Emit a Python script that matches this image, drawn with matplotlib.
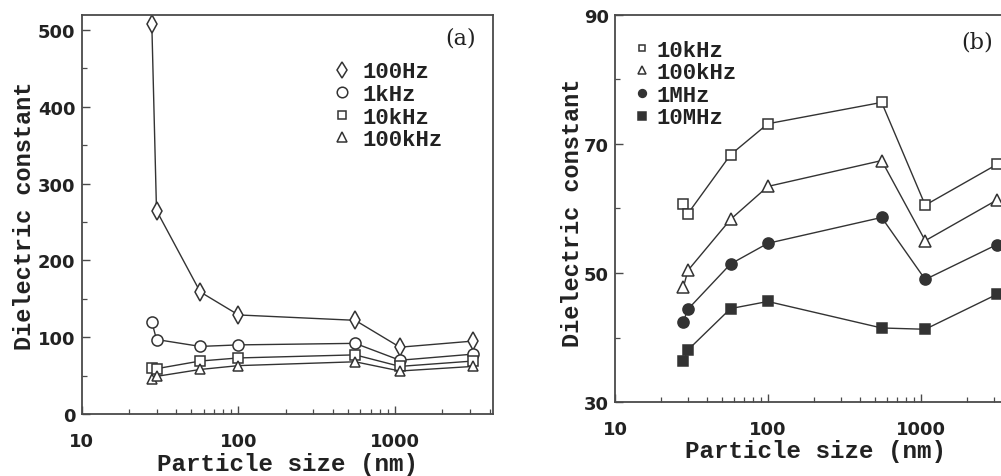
import matplotlib
matplotlib.use("Agg")
import matplotlib.pyplot as plt
from matplotlib.ticker import MultipleLocator, LogLocator, FixedLocator, NullFormatter

# ---------------- data ----------------
size_nm = [28, 30, 57, 100, 555, 1070, 3150]

a_100Hz = [508, 265, 159, 129, 122, 87, 95]
a_1kHz = [120, 97, 88, 90, 92, 70, 78]
a_10kHz = [60, 59, 69, 73, 77, 62, 69]
a_100kHz = [46, 49, 58, 63, 68, 56, 62]

b_10kHz = [60.7, 59.2, 68.3, 73.1, 76.4, 60.5, 66.8]
b_100kHz = [47.8, 50.4, 58.3, 63.4, 67.4, 55.0, 61.3]
b_1MHz = [42.5, 44.4, 51.4, 54.6, 58.6, 49.0, 54.4]
b_10MHz = [36.4, 38.1, 44.5, 45.6, 41.5, 41.3, 46.7]

a_labels = ["100Hz", "1kHz", "10kHz", "100kHz"]
b_labels = ["10kHz", "100kHz", "1MHz", "10MHz"]
x_ticks = [10, 100, 1000]
a_yticks = [0, 100, 200, 300, 400, 500]
b_yticks = [30, 50, 70, 90]

# ---------------- style ----------------
INK = "#333333"
SPINE = "#4a4a4a"
MONO = "Liberation Mono"
TICKFONT = {"family": "DejaVu Sans", "weight": "bold", "size": 13}

fig = plt.figure(figsize=(10.01, 4.77), dpi=100)
W, H = 1001, 477

def px_axes(l, t, r, b):
    return fig.add_axes([l / W, 1 - b / H, (r - l) / W, (b - t) / H])

axa = px_axes(81.7, 15.7, 493, 415)
axb = px_axes(615, 15.5, 1016, 403.3)

def style(ax, ylim, yticks, yminor):
    ax.set_xscale("log")
    ax.set_xlim(10, 4200)
    ax.set_ylim(*ylim)
    ax.xaxis.set_major_locator(FixedLocator(x_ticks))
    ax.xaxis.set_minor_locator(LogLocator(base=10, subs=range(2, 10), numticks=20))
    ax.xaxis.set_minor_formatter(NullFormatter())
    ax.set_xticklabels([str(t) for t in x_ticks], fontdict=TICKFONT)
    ax.yaxis.set_major_locator(FixedLocator(yticks))
    ax.yaxis.set_minor_locator(MultipleLocator(yminor))
    ax.set_yticklabels([str(t) for t in yticks], fontdict=TICKFONT)
    ax.tick_params(which="both", direction="in", top=False, right=False,
                   color=SPINE, labelcolor="#222222")
    ax.tick_params(which="major", length=5.5, width=1.0)
    ax.tick_params(which="minor", length=3.5, width=0.9)
    ax.tick_params(axis="x", which="major", pad=13)
    ax.tick_params(axis="y", which="major", pad=4.5)
    for s in ax.spines.values():
        s.set_color(SPINE)
        s.set_linewidth(1.3)
    ax.set_xlabel("Particle size (nm)", family=MONO, fontsize=17.5,
                  weight="bold", color="#222222", va="center")
    ax.set_ylabel("Dielectric constant", family=MONO, fontsize=17,
                  weight="bold", color="#222222", va="center")

style(axa, (0, 520), a_yticks, 50)
style(axb, (30, 90), b_yticks, 10)

line_kw = dict(color=INK, lw=1.0, mec=INK, mew=1.1)

# panel (a)
axa.plot(size_nm, a_100Hz, marker="d", ms=9, mfc="white", label=a_labels[0], **line_kw)
axa.plot(size_nm, a_1kHz, marker="o", ms=8, mfc="white", label=a_labels[1], **line_kw)
axa.plot(size_nm, a_10kHz, marker="s", ms=6.5, mfc="white", label=a_labels[2], **line_kw)
axa.plot(size_nm, a_100kHz, marker="^", ms=7.5, mfc="white", label=a_labels[3], **line_kw)

# panel (b)
axb.plot(size_nm, b_10kHz, marker="s", ms=7, mfc="white", label=b_labels[0], **line_kw)
axb.plot(size_nm, b_100kHz, marker="^", ms=8, mfc="white", label=b_labels[1], **line_kw)
axb.plot(size_nm, b_1MHz, marker="o", ms=8, mfc=INK, label=b_labels[2], **line_kw)
axb.plot(size_nm, b_10MHz, marker="s", ms=7.5, mfc=INK, label=b_labels[3], **line_kw)

leg_font = {"family": MONO, "size": 16, "weight": "bold"}
la = axa.legend(loc="upper left", bbox_to_anchor=(0.605, 0.883), frameon=False,
                prop=leg_font, handlelength=1.0, handletextpad=0.45,
                labelspacing=0.07, borderpad=0, borderaxespad=0, markerscale=0.95)
lb = axb.legend(loc="upper left", bbox_to_anchor=(0.039, 0.935), frameon=False,
                prop=leg_font, handlelength=1.0, handletextpad=0.18,
                labelspacing=0.07, borderpad=0, borderaxespad=0, markerscale=0.7)
for leg in (la, lb):
    for h in leg.get_lines():
        h.set_linestyle("none")
    for t in leg.get_texts():
        t.set_color("#222222")

axa.xaxis.set_label_coords(0.5, -0.125)
axb.xaxis.set_label_coords(0.5, -0.125)
axa.yaxis.set_label_coords(-0.138, 0.5)
axb.yaxis.set_label_coords(-0.105, 0.49)

axa.text(0.92, 0.943, "(a)", transform=axa.transAxes, ha="center", va="center",
         family="DejaVu Serif", fontsize=16, color="#222222")
axb.text(0.904, 0.931, "(b)", transform=axb.transAxes, ha="center", va="center",
         family="DejaVu Serif", fontsize=16, color="#222222")

fig.savefig("out.png", dpi=100)
